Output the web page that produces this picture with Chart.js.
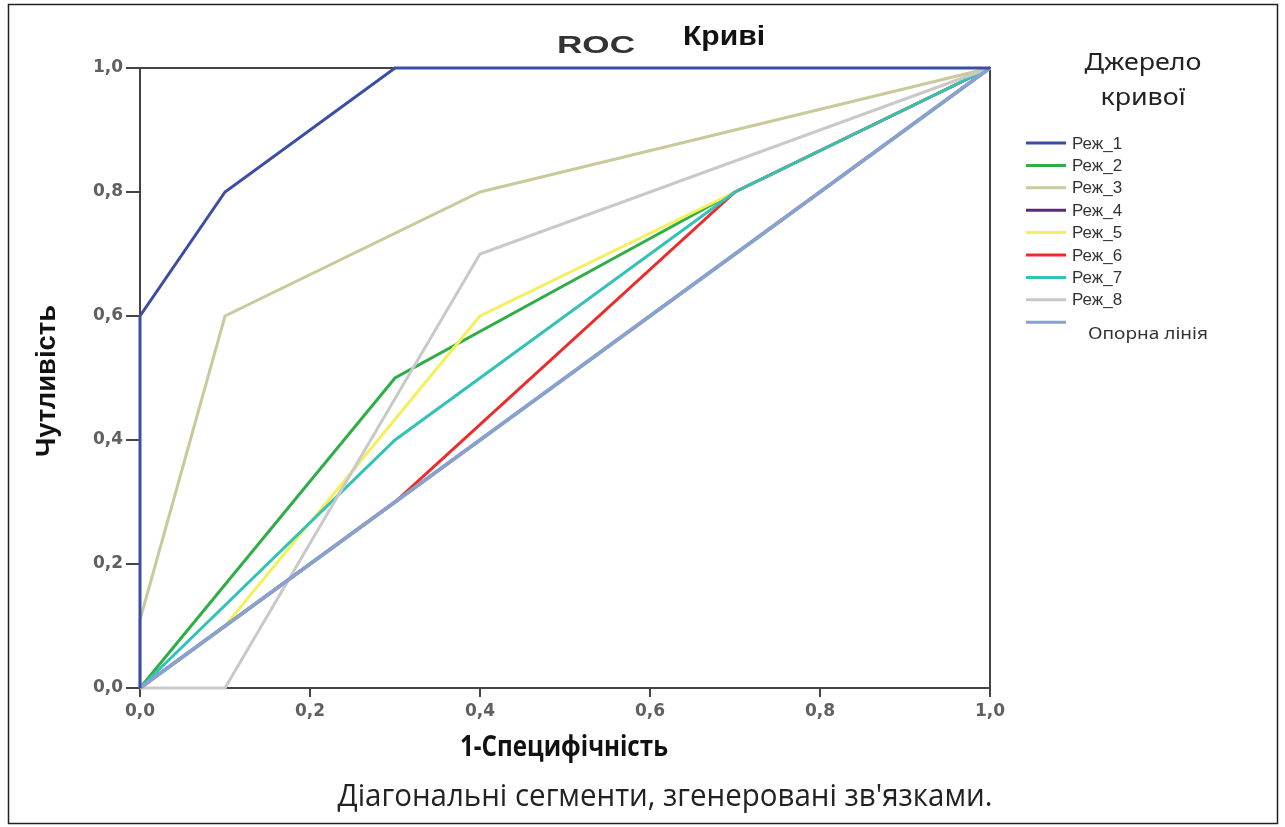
<!DOCTYPE html>
<html>
<head>
<meta charset="utf-8">
<script src="https://cdn.jsdelivr.net/npm/chart.js@4.4.1/dist/chart.umd.min.js"></script>
<style>
  html, body { margin: 0; padding: 0; background: #fff; }
  #wrap { position: relative; width: 1285px; height: 827px; }
  canvas { display: block; }
</style>
</head>
<body>
<div id="wrap"><canvas id="roc" width="1285" height="827"></canvas></div>
<script>
// 1 - specificity (x) and sensitivity (y) for each curve
const seriesNames = ["Реж_1", "Реж_2", "Реж_3", "Реж_4", "Реж_5", "Реж_6", "Реж_7", "Реж_8"];
const fpr1 = [0, 0, 0.1, 0.3, 1];
const tpr1 = [0, 0.6, 0.8, 1, 1];
const fpr2 = [0, 0.3, 0.7, 1];
const tpr2 = [0, 0.5, 0.8, 1];
const fpr3 = [0, 0, 0.1, 0.4, 1];
const tpr3 = [0, 0.11, 0.6, 0.8, 1];
const fpr4 = [0, 1];
const tpr4 = [0, 1];
const fpr5 = [0, 0.1, 0.4, 0.7, 1];
const tpr5 = [0, 0.1, 0.6, 0.8, 1];
const fpr6 = [0, 0.3, 0.7, 1];
const tpr6 = [0, 0.3, 0.8, 1];
const fpr7 = [0, 0.3, 0.7, 1];
const tpr7 = [0, 0.4, 0.8, 1];
const fpr8 = [0, 0.1, 0.4, 1];
const tpr8 = [0, 0, 0.7, 1];
const refX = [0, 1];
const refY = [0, 1];
const tickValues = [0, 0.2, 0.4, 0.6, 0.8, 1.0];

const colors = ["#3b4ea6", "#2fae48", "#c9c99b", "#5b2d73", "#f4ef5a", "#ee2a2a", "#33c2b8", "#c9c9c9"];
const refColor = "#87a2cf";

const xs = [fpr1, fpr2, fpr3, fpr4, fpr5, fpr6, fpr7, fpr8];
const ys = [tpr1, tpr2, tpr3, tpr4, tpr5, tpr6, tpr7, tpr8];

const toPoints = (a, b) => a.map((v, i) => ({ x: v, y: b[i] }));

const datasets = seriesNames.map((name, i) => ({
  label: name,
  data: toPoints(xs[i], ys[i]),
  borderColor: colors[i],
  borderWidth: 3,
  pointRadius: 0,
  tension: 0,
  clip: 6,
  order: i == 0 ? 0 : 10 - i,
}));
datasets.push({
  label: "Опорна лінія",
  data: toPoints(refX, refY),
  borderColor: refColor,
  borderWidth: 4,
  pointRadius: 0,
  clip: 6,
  order: 1,
});

const fmt = (v) => v.toFixed(1).replace(".", ",");
const tickFont = "'DejaVu Sans', Verdana, sans-serif";

// текст, стиснутий/розтягнутий до потрібної ширини (центр у cx)
function fitText(ctx, text, cx, cy, w, k) {
  const s = k || w / ctx.measureText(text).width;
  ctx.save();
  ctx.translate(cx, cy);
  ctx.scale(s, 1);
  ctx.textAlign = "center";
  ctx.fillText(text, 0, 0);
  ctx.restore();
  return s;
}

// рамка, заголовки, легенда
const decor = {
  id: "decor",
  beforeDatasetsDraw(chart) {
    const { ctx, chartArea: a } = chart;
    ctx.save();
    ctx.strokeStyle = "#444";
    ctx.lineWidth = 2;
    ctx.strokeRect(a.left, a.top, a.right - a.left, a.bottom - a.top);
    ctx.restore();
  },
  afterDraw(chart) {
    const { ctx } = chart;
    ctx.save();
    // outer frame
    ctx.strokeStyle = "#222";
    ctx.lineWidth = 1.5;
    ctx.strokeRect(8.5, 4.5, 1269, 819);

    ctx.textBaseline = "middle";
    ctx.fillStyle = "#333";
    ctx.font = "bold 24px 'Liberation Sans', Arial";
    fitText(ctx, "ROC", 596, 46, 78);
    ctx.fillStyle = "#111";
    ctx.font = "bold 27px 'Liberation Sans', Arial";
    fitText(ctx, "Криві", 724, 38, 82);

    // axis titles
    ctx.font = "bold 28px 'Open Sans', 'Noto Sans', sans-serif";
    fitText(ctx, "1-Специфічність", 564, 748, 208);
    ctx.font = "31px 'Open Sans', 'Noto Sans', sans-serif";
    ctx.fillStyle = "#222";
    fitText(ctx, "Діагональні сегменти, згенеровані зв'язками.", 665, 797, 655);

    ctx.save();
    ctx.translate(48, 381);
    ctx.rotate(-Math.PI / 2);
    ctx.fillStyle = "#111";
    ctx.font = "bold 27px 'Liberation Sans', Arial";
    fitText(ctx, "Чутливість", 0, 0, 152);
    ctx.restore();

    // legend
    ctx.fillStyle = "#222";
    ctx.font = "24px 'Noto Sans', sans-serif";
    const k = fitText(ctx, "Джерело", 1143, 63, 117);
    fitText(ctx, "кривої", 1143, 98, 0, k);

    chart.data.datasets.forEach((ds, i) => {
      const y = 143 + i * 22.4;
      ctx.strokeStyle = ds.borderColor;
      ctx.lineWidth = 3;
      ctx.beginPath();
      ctx.moveTo(1026, y);
      ctx.lineTo(1066, y);
      ctx.stroke();
      ctx.fillStyle = "#333";
      if (i < seriesNames.length) {
        ctx.font = "17px 'Liberation Sans', Arial";
        ctx.textAlign = "left";
        ctx.fillText(ds.label, 1072, y + 1);
      } else {
        ctx.font = "17px 'Noto Sans', sans-serif";
        fitText(ctx, ds.label, 1148, y + 12, 120);
      }
    });
    ctx.restore();
  },
};

new Chart(document.getElementById("roc"), {
  type: "line",
  data: { datasets },
  options: {
    responsive: false,
    animation: false,
    layout: { padding: { left: 0, top: 68, right: 295, bottom: 0 } },
    plugins: {
      legend: { display: false },
      tooltip: { enabled: false },
    },
    scales: {
      x: {
        type: "linear",
        min: 0,
        max: 1,
        afterBuildTicks: (s) => { s.ticks = tickValues.map((v) => ({ value: v })); },
        afterFit: (s) => { s.height = 139; },
        grid: { drawOnChartArea: false, drawTicks: true, tickLength: 9, color: "#444", lineWidth: 2 },
        border: { display: true, color: "#444", width: 2 },
        ticks: {
          color: "#606060",
          padding: 4,
          font: { family: tickFont, size: 17, weight: "bold" },
          callback: (v) => fmt(v),
          maxRotation: 0,
        },
      },
      y: {
        type: "linear",
        min: 0,
        max: 1,
        afterBuildTicks: (s) => { s.ticks = tickValues.map((v) => ({ value: v })); },
        afterFit: (s) => { s.width = 140; },
        grid: { drawOnChartArea: false, drawTicks: true, tickLength: 14, color: "#444", lineWidth: 2 },
        border: { display: true, color: "#444", width: 2 },
        ticks: {
          color: "#606060",
          padding: 3,
          font: { family: tickFont, size: 17, weight: "bold" },
          callback: (v) => fmt(v),
        },
      },
    },
  },
  plugins: [decor],
});
</script>
</body>
</html>
